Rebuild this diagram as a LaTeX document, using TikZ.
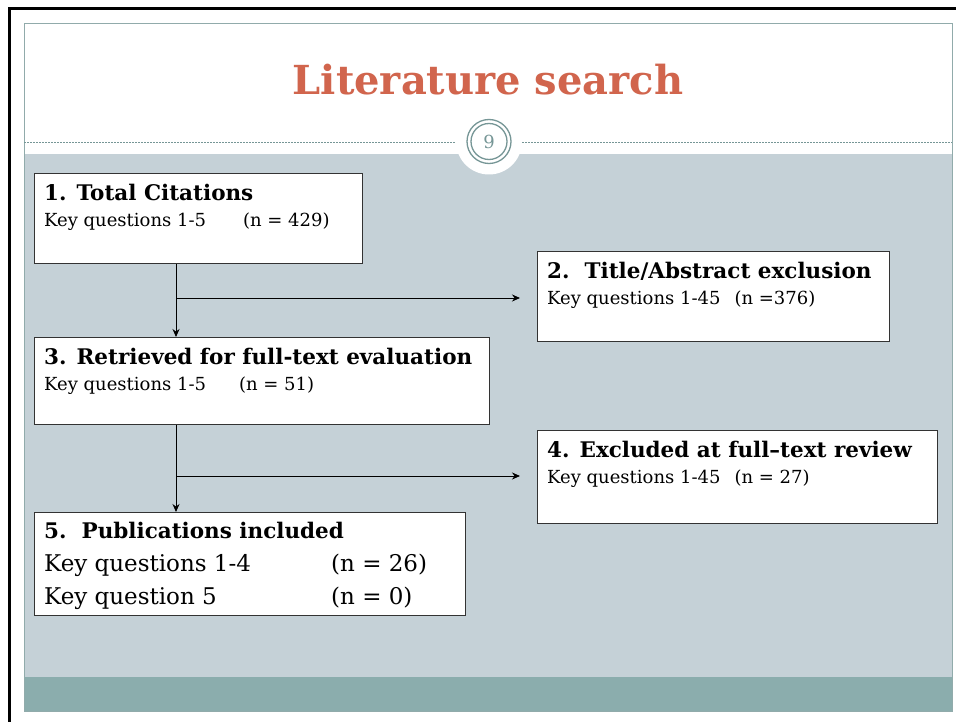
\documentclass[tikz,border=0pt]{standalone}
\usepackage{fontspec}
\setmainfont{DejaVu Serif}
\usetikzlibrary{positioning,arrows.meta}

\definecolor{titlered}{RGB}{209,101,77}
\definecolor{slidegray}{RGB}{197,209,215}
\definecolor{slideteal}{RGB}{139,173,173}
\definecolor{ringteal}{RGB}{118,150,150}

\newcommand{\stagehd}{\fontsize{21.5}{26}\selectfont\bfseries}

\tikzset{
  stagebox/.style={draw=black!80, line width=1.2pt, fill=white, anchor=north west, inner sep=0pt},
  stagetext/.style={anchor=north west, align=left, inner sep=0pt, font=\fontsize{18}{26}\selectfont},
  flow/.style={line width=0.9pt, -{Stealth[length=8pt,width=7pt]}}
}

\begin{document}
\begin{tikzpicture}[x=1pt,y=-1pt]
  \useasboundingbox (0,0) rectangle (956,722);
  \fill[white] (0,0) rectangle (956,722);

  % Slide frame
  \draw[line width=3pt] (956,8.5) -- (9.5,8.5) -- (9.5,722);
  \fill[white] (24,23) rectangle (952,154);
  \fill[slidegray] (24,154) rectangle (952,677);
  \fill[slideteal] (24,677) rectangle (952,711);
  \draw[ringteal!80, line width=0.8pt] (24,711) rectangle (952,23);

  % Title
  \node[text=titlered, font=\fontsize{40}{46}\selectfont\bfseries] (title) at (488,80) {Literature search};

  % Page number
  \draw[ringteal, dashed, dash pattern=on 2pt off 1pt, line width=0.8pt] (24,142) -- (952,142);
  \fill[white] (489,141.5) circle (33);
  \draw[ringteal, line width=1.3pt] (489,141.5) circle (22);
  \draw[ringteal, line width=1.3pt] (489,141.5) circle (18);
  \node[text=ringteal, font=\fontsize{18}{20}\selectfont] (pagenum) at (489,142) {9};

  % Boxes
  \node[stagebox, minimum width=328pt, minimum height=90pt] (total) at (34,173) {};
  \node[stagebox, minimum width=352pt, minimum height=90pt] (abstract) at (537,251) {};
  \node[stagebox, minimum width=455pt, minimum height=87pt] (retrieved) at (34,337) {};
  \node[stagebox, minimum width=400pt, minimum height=93pt] (fulltext) at (537,430) {};
  \node[stagebox, minimum width=431pt, minimum height=103pt] (included) at (34,512) {};

  % Box texts
  \node[stagetext] (totaltxt) at ([xshift=10pt,yshift=-11pt]total.north west)
    {{\stagehd 1. Total Citations}\\
     Key questions 1-5\hspace{37pt}(n = 429)};
  \node[stagetext] (abstracttxt) at ([xshift=10pt,yshift=-11pt]abstract.north west)
    {{\stagehd 2.\ \ Title/Abstract exclusion}\\
     Key questions 1-45\hspace{14pt}(n =376)};
  \node[stagetext] (retrievedtxt) at ([xshift=10pt,yshift=-11pt]retrieved.north west)
    {{\stagehd 3. Retrieved for full-text evaluation}\\
     Key questions 1-5\hspace{33pt}(n = 51)};
  \node[stagetext] (fulltexttxt) at ([xshift=10pt,yshift=-11pt]fulltext.north west)
    {{\stagehd 4. Excluded at full--text review}\\
     Key questions 1-45\hspace{14pt}(n = 27)};
  \node[stagetext, font=\fontsize{23}{33}\selectfont] (includedtxt) at ([xshift=10pt,yshift=-10pt]included.north west)
    {{\fontsize{21.5}{28}\selectfont\bfseries 5.\ \ Publications included}\\
     \makebox[287pt][l]{Key questions 1-4}(n = 26)\\
     \makebox[287pt][l]{Key question 5}(n = 0)};

  % Connectors
  \coordinate (split1) at (176,298);
  \coordinate (split2) at (176,476);
  \coordinate (end1) at ([xshift=-17pt]split1 -| abstract.west);
  \coordinate (end2) at ([xshift=-17pt]split2 -| fulltext.west);
  \draw[flow] (total.south -| split1) -- (retrieved.north -| split1);
  \draw[flow] (split1) -- (end1);
  \draw[flow] (retrieved.south -| split2) -- (included.north -| split2);
  \draw[flow] (split2) -- (end2);
\end{tikzpicture}
\end{document}
